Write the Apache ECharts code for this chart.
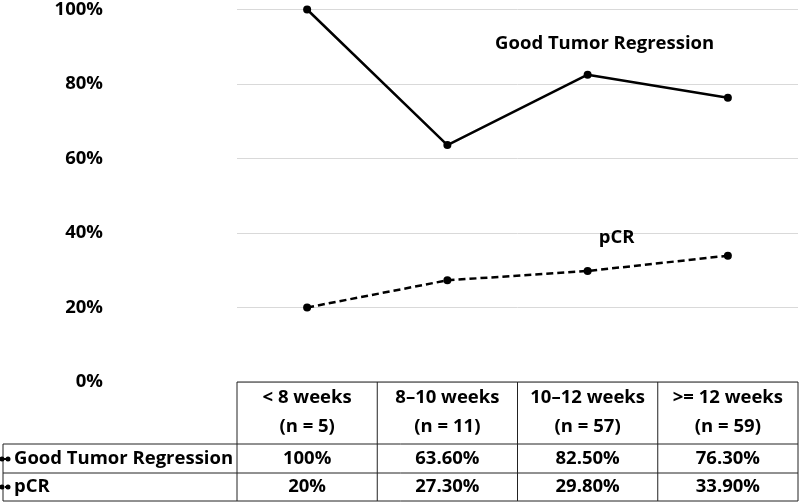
<!DOCTYPE html>
<html>
<head>
<meta charset="utf-8">
<script src="https://cdn.jsdelivr.net/npm/echarts@6/dist/echarts.min.js"></script>
<style>
  html, body { margin: 0; padding: 0; background: #fff; }
  #main { width: 799px; height: 502px; }
</style>
</head>
<body>
<div id="main"></div>
<script>
const categories = ['< 8 weeks', '8–10 weeks', '10–12 weeks', '>= 12 weeks'];
const counts = [5, 11, 57, 59];
const goodRegression = [100, 63.6, 82.5, 76.3];
const pcr = [20, 27.3, 29.8, 33.9];
const seriesNames = ['Good Tumor Regression', 'pCR'];

const FONT = 'Open Sans';
const FSIZE = 18.5;

function pct(v) {
  return Number.isInteger(v) ? v + '%' : v.toFixed(2) + '%';
}

function loadChart() {
  var chartDom = document.getElementById('main');
  var myChart = echarts.init(chartDom);
  var option;

  option = {
    animation: false,
    grid: { left: 237, right: 1, top: 7, bottom: 120 },
    xAxis: {
      type: 'category',
      data: categories,
      boundaryGap: true,
      axisLine: { show: false },
      axisTick: { show: false },
      axisLabel: { show: false }
    },
    yAxis: {
      type: 'value',
      min: 0,
      max: 100,
      interval: 20,
      axisLine: { show: false },
      axisTick: { show: false },
      axisLabel: {
        formatter: '{value}%',
        margin: 134,
        fontFamily: FONT,
        fontWeight: 'bold',
        fontSize: FSIZE,
        color: '#000'
      },
      splitLine: { lineStyle: { color: '#d9d9d9', width: 1 } }
    },
    series: [
      {
        name: seriesNames[0],
        type: 'line',
        data: goodRegression.map((v, i) => i === 2 ? {
          value: v,
          label: { show: true, formatter: seriesNames[0], offset: [17, -12] }
        } : v),
        symbol: 'circle',
        symbolSize: 8,
        lineStyle: { color: '#000', width: 2.5 },
        itemStyle: { color: '#000' },
        label: {
          show: false,
          position: 'top',
          fontFamily: FONT,
          fontWeight: 'bold',
          fontSize: FSIZE,
          color: '#000'
        }
      },
      {
        name: seriesNames[1],
        type: 'line',
        data: pcr.map((v, i) => i === 2 ? {
          value: v,
          label: { show: true, formatter: seriesNames[1], offset: [29, -15] }
        } : v),
        symbol: 'circle',
        symbolSize: 8,
        lineStyle: { color: '#000', width: 2.5, type: [7, 4] },
        itemStyle: { color: '#000' },
        label: {
          show: false,
          position: 'top',
          fontFamily: FONT,
          fontWeight: 'bold',
          fontSize: FSIZE,
          color: '#000'
        }
      }
    ]
  };

  myChart.setOption(option);

  // data table under the plot
  let x0 = myChart.convertToPixel({ xAxisIndex: 0 }, 0);
  let x1 = myChart.convertToPixel({ xAxisIndex: 0 }, 1);
  let band = x1 - x0;
  let left = x0 - band / 2;
  let right = left + band * categories.length;
  let top = myChart.convertToPixel({ yAxisIndex: 0 }, 0);
  let rows = [top, 444, 473, 501];
  let tableLeft = 3;
  let stroke = { stroke: '#222', lineWidth: 1 };
  let textStyle = { fontFamily: FONT, fontWeight: 'bold', fontSize: FSIZE, fill: '#000' };
  let els = [];

  els.push({ type: 'line', shape: { x1: left, y1: rows[0], x2: right, y2: rows[0] }, style: stroke });
  for (let r = 1; r < rows.length; r++) {
    els.push({ type: 'line', shape: { x1: tableLeft, y1: rows[r], x2: right, y2: rows[r] }, style: stroke });
  }
  els.push({ type: 'line', shape: { x1: tableLeft, y1: rows[1], x2: tableLeft, y2: rows[3] }, style: stroke });
  for (let i = 0; i <= categories.length; i++) {
    let x = left + band * i;
    els.push({ type: 'line', shape: { x1: x, y1: rows[0], x2: x, y2: rows[3] }, style: stroke });
  }

  categories.forEach((c, i) => {
    let cx = myChart.convertToPixel({ xAxisIndex: 0 }, i);
    els.push({ type: 'text', x: cx, y: 398, style: Object.assign({ text: c, align: 'center', verticalAlign: 'middle' }, textStyle) });
    els.push({ type: 'text', x: cx, y: 427, style: Object.assign({ text: '(n = ' + counts[i] + ')', align: 'center', verticalAlign: 'middle' }, textStyle) });
    els.push({ type: 'text', x: cx, y: 459, style: Object.assign({ text: pct(goodRegression[i]), align: 'center', verticalAlign: 'middle' }, textStyle) });
    els.push({ type: 'text', x: cx, y: 487, style: Object.assign({ text: pct(pcr[i]), align: 'center', verticalAlign: 'middle' }, textStyle) });
  });

  [seriesNames[0], seriesNames[1]].forEach((name, r) => {
    let y = r === 0 ? 459 : 487;
    els.push({ type: 'line', shape: { x1: 0, y1: y, x2: 10, y2: y }, style: { stroke: '#000', lineWidth: 2, lineDash: r === 1 ? [3, 2] : null } });
    els.push({ type: 'circle', shape: { cx: 2, cy: y, r: 2.5 }, style: { fill: '#000' } });
    els.push({ type: 'circle', shape: { cx: 8, cy: y, r: 2.5 }, style: { fill: '#000' } });
    els.push({ type: 'text', x: 14, y: y, style: Object.assign({ text: name, align: 'left', verticalAlign: 'middle' }, textStyle) });
  });

  myChart.setOption({ graphic: { elements: els } });
}

document.addEventListener('DOMContentLoaded', () => {
  loadChart();
});
</script>
</body>
</html>
